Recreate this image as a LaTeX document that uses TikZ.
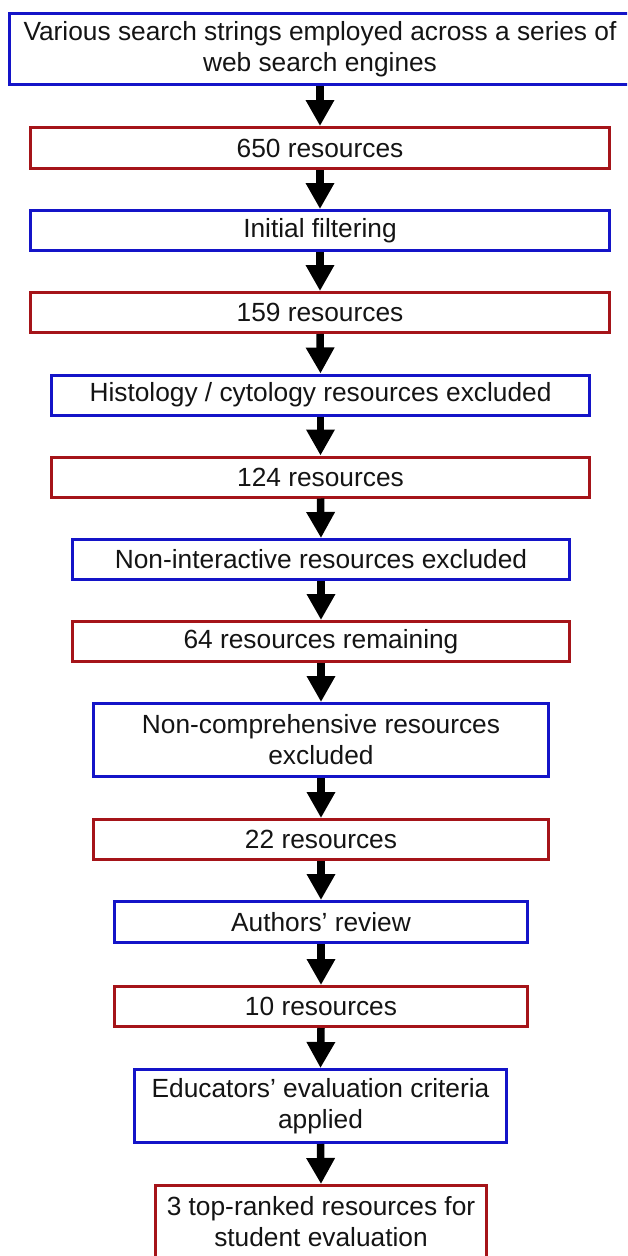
\documentclass[tikz,border=0pt]{standalone}
\usepackage{fontspec}
\setmainfont{Liberation Sans}
\usetikzlibrary{arrows.meta}
\definecolor{boxblue}{RGB}{20,20,200}
\definecolor{boxred}{RGB}{165,20,25}
\tikzset{
  box/.style={draw, line width=3pt, fill=white, align=center, inner sep=0pt,
    font=\fontsize{26.3}{31}\selectfont, text=black!92},
  bluebox/.style={box, draw=boxblue},
  redbox/.style={box, draw=boxred},
  flow/.style={line width=7.5pt, -{Triangle[width=27pt,length=26pt]}, black}
}
\begin{document}
\begin{tikzpicture}[x=1pt,y=-1pt]
\useasboundingbox (0,0) rectangle (627,1256);
\clip (0,0) rectangle (627,1256);
\fill[white] (0,0) rectangle (627,1256);
\node[bluebox, minimum width=621pt, minimum height=71pt] (b1) at (320,49) {Various search strings employed across a series of\\web search engines};
\node[redbox, minimum width=579pt, minimum height=41pt] (b2) at (320,148) {650 resources};
\node[bluebox, minimum width=579pt, minimum height=40pt] (b3) at (320,230.5) {Initial filtering};
\node[redbox, minimum width=579pt, minimum height=40pt] (b4) at (320,312.5) {159 resources};
\node[bluebox, minimum width=538pt, minimum height=40pt] (b5) at (320.5,395) {Histology / cytology resources excluded};
\node[redbox, minimum width=538pt, minimum height=40pt] (b6) at (320.5,477) {124 resources};
\node[bluebox, minimum width=497pt, minimum height=40pt] (b7) at (321,559.5) {Non-interactive resources excluded};
\node[redbox, minimum width=497pt, minimum height=40pt] (b8) at (321,641.5) {64 resources remaining};
\node[bluebox, minimum width=455pt, minimum height=73pt] (b9) at (321,740) {Non-comprehensive resources\\excluded};
\node[redbox, minimum width=455pt, minimum height=40pt] (b10) at (321,839.5) {22 resources};
\node[bluebox, minimum width=413pt, minimum height=41pt] (b11) at (321,922) {Authors’ review};
\node[redbox, minimum width=413pt, minimum height=40pt] (b12) at (321,1006.5) {10 resources};
\node[bluebox, minimum width=372pt, minimum height=73pt] (b13) at (320.5,1106) {Educators’ evaluation criteria\\applied};
\node[redbox, minimum width=331pt, minimum height=73pt] (b14) at (321,1222) {3 top-ranked resources for\\student evaluation};
\foreach \a/\b in {b1/b2,b2/b3,b3/b4,b4/b5,b5/b6,b6/b7,b7/b8,b8/b9,b9/b10,b10/b11,b11/b12,b12/b13,b13/b14}
  \draw[flow] (\a.south) -- (\b.north);
\end{tikzpicture}
\end{document}
